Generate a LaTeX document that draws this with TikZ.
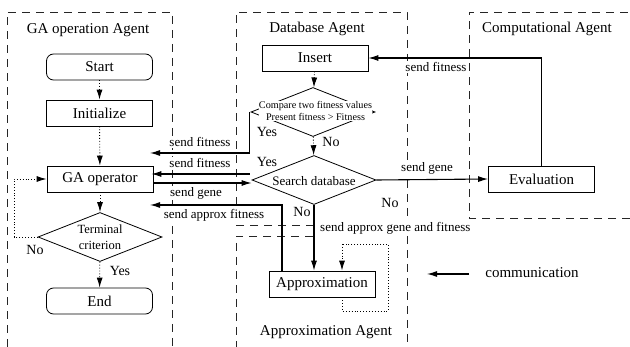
\documentclass[tikz,border=0pt]{standalone}
\usepackage{fontspec}
\setmainfont{Liberation Serif}
\usetikzlibrary{shapes.geometric,arrows.meta,calc}
\begin{document}
\begin{tikzpicture}[x=1pt,y=-1pt,
  agent/.style={dash pattern=on 8pt off 6pt, line width=0.6pt, draw=black!85},
  procbox/.style={draw, line width=0.8pt, minimum width=106pt, minimum height=26pt, inner sep=0pt, font=\fontsize{15}{18}\selectfont},
  termbox/.style={procbox, rounded corners=7pt},
  decide/.style={draw, diamond, line width=0.8pt, minimum width=124pt, minimum height=49pt, inner sep=0pt},
  title/.style={font=\fontsize{15}{18}\selectfont, inner sep=0pt},
  elabel/.style={font=\fontsize{13}{15}\selectfont, fill=white, inner sep=1pt},
  yn/.style={font=\fontsize{14}{16}\selectfont, inner sep=0pt},
  msg/.style={line width=1.1pt, -{Latex[length=10pt,width=6pt]}},
  flow/.style={line width=0.9pt, dotted, -{Latex[length=10pt,width=6pt]}},
  loopline/.style={line width=0.9pt, dotted},
]
\useasboundingbox (0,0) rectangle (630,347);

% agent regions
\draw[agent] (7,347) -- (7,12) -- (172,12) -- (172,347);
\draw[agent] (314,225) -- (236,225) -- (236,12) -- (407,12) -- (407,347);
\draw[agent] (313,236) -- (236,236) -- (236,347);
\draw[agent] (630,218) -- (469,218) -- (469,12) -- (630,12);

% titles
\node[title] (tga) at (88,30) {GA operation Agent};
\node[title] (tdb) at (317,29) {Database Agent};
\node[title] (tcomp) at (547,29) {Computational Agent};
\node[title] (tapp) at (326,332) {Approximation Agent};

% GA agent nodes
\node[termbox, fill=white] (start) at (99.5,67) {Start};
\node[procbox, fill=white] (init) at (99.5,113) {Initialize};
\node[procbox, fill=white] (gaop) at (100,179) {GA operator};
\node[decide, fill=white] (term) at (100,237) {};
\node[font=\fontsize{12.5}{16}\selectfont, align=center, inner sep=0pt] (termtxt) at (100,237.5) {Terminal\\criterion};
\node[termbox, fill=white] (end) at (99.5,301) {End};

% database agent nodes
\node[procbox, fill=white] (insert) at (315,58) {Insert};
\node[decide, fill=white] (compare) at (313,112) {};
\node[font=\fontsize{10.2}{12}\selectfont, align=center, fill=white, inner sep=0.3pt] (comptxt) at (315.5,111) {Compare two fitness values\\Present fitness > Fitness};
\node[decide, fill=white] (search) at (314,180) {};
\node[font=\fontsize{13}{15}\selectfont, inner sep=0pt] (searchtxt) at (314,181) {Search database};

% computational and approximation
\node[procbox, fill=white] (eval) at (541.5,179) {Evaluation};
\node[procbox, fill=white] (approx) at (322,284) {Approximation};

% free ends
\coordinate (cf) at (150,153);
\coordinate (af) at (150,205);
\coordinate (loopl) at (14,237);
\coordinate (legA) at (469,274);
\coordinate (legB) at (427,274);

% GA flow
\draw[flow] (start) -- (init);
\draw[flow] (init) -- (gaop);
\draw[flow] (gaop) -- (term);
\draw[flow] (term) -- (end);
\draw[loopline] (term.west) -- (loopl);
\draw[flow] (loopl) |- (gaop.west);

% database flow
\draw[flow] (insert) -- (compare);
\draw[flow] (compare) -- (search);
\draw[msg] (eval.north) |- (insert.east);
\draw[msg] ([xshift=-1pt]compare.west) |- (cf);
\draw[msg] ([xshift=-2pt,yshift=6pt]search.west) -- ([xshift=-2pt,yshift=6pt]search.west -| gaop.east);
\draw[msg] ([yshift=-4pt]gaop.east) -- ([yshift=-4pt]gaop.east -| search.west);
\draw[msg] (search.east) -- (eval.west);
\draw[msg] (search.south) -- (search.south |- approx.north);
\draw[msg] ([xshift=-40pt]approx.north) |- (af);

% approximation self loop
\draw[loopline] ([xshift=20pt]approx.south) -- (342,311) -- (388,311) -- (388,244) -- (342,244);
\draw[flow] (342,244) -- ([xshift=20pt]approx.north);

% legend
\draw[msg] (legA) -- (legB);
\node[font=\fontsize{15}{18}\selectfont, inner sep=0pt] (legtxt) at (532,273) {communication};

% labels
\node[elabel] (l1) at (436,67) {send fitness};
\node[elabel] (l2) at (200,142) {send fitness};
\node[elabel] (l3) at (200,163) {send fitness};
\node[elabel] (l4) at (196,193) {send gene};
\node[elabel] (l5) at (214,215) {send approx fitness};
\node[elabel] (l6) at (427,168) {send gene};
\node[elabel, anchor=west] (l7) at (319,228) {send approx gene and fitness};

\node[yn] (y1) at (267,132) {Yes};
\node[yn] (n1) at (331,142) {No};
\node[yn] (y2) at (267,162) {Yes};
\node[yn] (n2) at (390,203) {No};
\node[yn] (n3) at (302,212) {No};
\node[yn] (n4) at (35,250) {No};
\node[yn] (y3) at (120,271) {Yes};
\end{tikzpicture}
\end{document}
